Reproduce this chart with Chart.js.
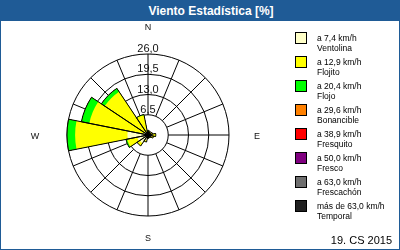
<!DOCTYPE html>
<html>
<head>
<meta charset="utf-8">
<script src="https://cdn.jsdelivr.net/npm/chart.js@4/dist/chart.umd.min.js"></script>
<style>
  html, body { margin: 0; padding: 0; background: #fff; }
  #frame { position: relative; width: 400px; height: 250px; box-sizing: border-box;
           border: 1px solid #1f5b96; overflow: hidden; font-family: "Liberation Sans", Arial, sans-serif; }
  #title { position: absolute; left: 0; top: 0; width: 100%; height: 20px; background: #1f5b96;
           color: #fff; font-weight: bold; font-size: 12px; line-height: 20px; text-align: center;
           box-sizing: border-box; padding-left: 22px; }
  #rose { position: absolute; left: -1px; top: -1px; }
  .lg-box { position: absolute; left: 294px; width: 10px; height: 10px; border: 1px solid #000; }
  .lg-text { position: absolute; left: 316px; font-size: 8.5px; line-height: 9.5px; color: #000; white-space: nowrap; }
  #stamp { position: absolute; right: 7px; top: 233px; font-size: 11px; color: #000; }
</style>
</head>
<body>
<div id="frame">
  <div id="title">Viento Estadística [%]</div>
  <canvas id="rose" width="400" height="250"></canvas>
  <div id="legend"></div>
  <div id="stamp">19. CS 2015</div>
</div>
<script>
// Wind directions, clockwise from north
const DIRECTIONS = ["N", "NNE", "NE", "ENE", "E", "ESE", "SE", "SSE",
                    "S", "SSW", "SW", "WSW", "W", "WNW", "NW", "NNW"];

// Frequency (%) per speed class and direction
const VENTOLINA  = [0.8, 0.8, 0.7, 1.0, 1.5, 1.2, 0.8, 0.7, 0.8, 1.8, 3.2, 3.5, 6.6, 1.5, 1.2, 1.0];
const FLOJITO    = [0.7, 0.5, 0.3, 0.5, 1.0, 0.6, 0.3, 0.2, 0.3, 0.5, 1.0, 3.3, 16.8, 17.7, 15.5, 5.5];
const FLOJO      = [0, 0, 0, 0, 0, 0, 0, 0, 0, 0, 0, 0.4, 2.6, 2.6, 1.3, 0.2];
const BONANCIBLE = [0, 0, 0, 0, 0, 0, 0, 0, 0, 0, 0, 0, 0, 0, 0, 0];
const FRESQUITO  = [0, 0, 0, 0, 0, 0, 0, 0, 0, 0, 0, 0, 0, 0, 0, 0];
const FRESCO     = [0, 0, 0, 0, 0, 0, 0, 0, 0, 0, 0, 0, 0, 0, 0, 0];
const FRESCACHON = [0, 0, 0, 0, 0, 0, 0, 0, 0, 0, 0, 0, 0, 0, 0, 0];
const TEMPORAL   = [0, 0, 0, 0, 0, 0, 0, 0, 0, 0, 0, 0, 0, 0, 0, 0];

const CLASS_LIMITS = ["a 7,4 km/h", "a 12,9 km/h", "a 20,4 km/h", "a 29,6 km/h",
                      "a 38,9 km/h", "a 50,0 km/h", "a 63,0 km/h", "más de 63,0 km/h"];
const CLASS_NAMES = ["Ventolina", "Flojito", "Flojo", "Bonancible",
                     "Fresquito", "Fresco", "Frescachón", "Temporal"];
const CLASS_COLORS = ["#ffffc8", "#ffff00", "#00ff00", "#ff8000",
                      "#ff0000", "#800080", "#6e6e6e", "#202020"];

const RING_TICKS = [6.5, 13, 19.5, 26];
const CARDINALS = ["N", "E", "S", "W"];

const CLASSES = [VENTOLINA, FLOJITO, FLOJO, BONANCIBLE, FRESQUITO, FRESCO, FRESCACHON, TEMPORAL];

// polar areas overlap instead of stacking, so each class is drawn as the
// running total up to it; lower classes sit on top (dataset 0 is drawn last)
const running = DIRECTIONS.map(() => 0);
const fills = CLASSES.map((vals, k) => {
  vals.forEach((v, i) => { running[i] += v; });
  return { data: running.slice(), backgroundColor: CLASS_COLORS[k], borderWidth: 0 };
});
const outline = { data: running.slice(), backgroundColor: "transparent",
                  borderColor: "#000", borderWidth: 1 };

const fmtTick = (v) => v.toFixed(1).replace(".", ",");

const roseFrame = {
  id: "roseFrame",
  beforeDatasetsDraw(chart) {
    const s = chart.scales.r, ctx = chart.ctx;
    const r0 = s.getDistanceFromCenterForValue(RING_TICKS[0]);
    const r1 = s.getDistanceFromCenterForValue(RING_TICKS[RING_TICKS.length - 1]);
    ctx.save();
    ctx.strokeStyle = "#000";
    ctx.lineWidth = 1;
    ctx.beginPath();
    DIRECTIONS.forEach((_, i) => {
      const a = i * 2 * Math.PI / DIRECTIONS.length - Math.PI / 2;
      ctx.moveTo(s.xCenter + r0 * Math.cos(a), s.yCenter + r0 * Math.sin(a));
      ctx.lineTo(s.xCenter + r1 * Math.cos(a), s.yCenter + r1 * Math.sin(a));
    });
    ctx.stroke();
    ctx.restore();
  },
  afterDatasetsDraw(chart) {
    const s = chart.scales.r, ctx = chart.ctx;
    const r1 = s.getDistanceFromCenterForValue(RING_TICKS[RING_TICKS.length - 1]);
    ctx.save();
    ctx.fillStyle = "#111";
    ctx.textAlign = "center";
    ctx.textBaseline = "alphabetic";
    ctx.font = '11px "Liberation Sans", Arial, sans-serif';
    RING_TICKS.forEach((t) => {
      ctx.fillText(fmtTick(t), s.xCenter, s.yCenter - s.getDistanceFromCenterForValue(t) - 2);
    });
    ctx.font = '9px "Liberation Sans", Arial, sans-serif';
    ctx.textBaseline = "middle";
    const gap = [26, 28, 23, 32];
    CARDINALS.forEach((c, i) => {
      const a = i * Math.PI / 2 - Math.PI / 2;
      const d = r1 + gap[i];
      ctx.fillText(c, s.xCenter + d * Math.cos(a), s.yCenter + d * Math.sin(a) + (i % 2 ? 2 : 0));
    });
    ctx.restore();
  },
};

new Chart(document.getElementById("rose"), {
  type: "polarArea",
  data: { labels: DIRECTIONS, datasets: [outline, ...fills] },
  options: {
    responsive: false,
    animation: false,
    layout: { padding: { left: 67, top: 54, right: 170, bottom: 33 } },
    scales: {
      r: {
        min: 0,
        max: RING_TICKS[RING_TICKS.length - 1],
        startAngle: -180 / DIRECTIONS.length,
        ticks: { display: false, stepSize: RING_TICKS[0] },
        grid: { color: "#000", lineWidth: 1, circular: true },
        angleLines: { display: false },
        pointLabels: { display: false },
      },
    },
    plugins: { legend: { display: false }, tooltip: { enabled: false } },
  },
  plugins: [roseFrame],
});

const legend = document.getElementById("legend");
legend.innerHTML = CLASS_NAMES.map((name, i) => {
  const top = 32 + i * 24.06;
  return `<div class="lg-box" style="top:${top - 1}px;background:${CLASS_COLORS[i]}"></div>` +
    `<div class="lg-text" style="top:${top + 1}px">${CLASS_LIMITS[i]}<br>${name}</div>`;
}).join("");
</script>
</body>
</html>
